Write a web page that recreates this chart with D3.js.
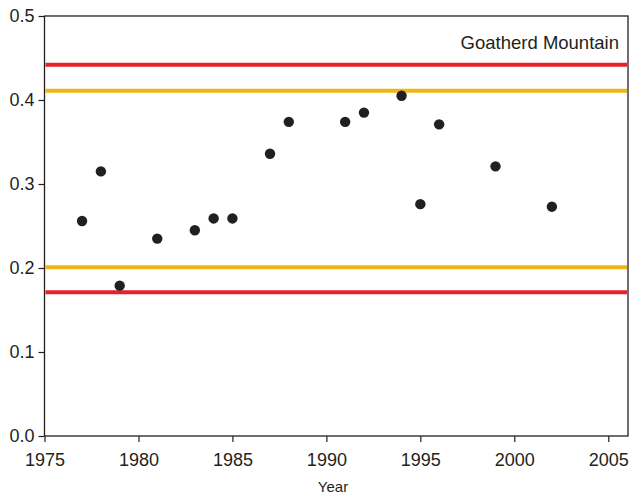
<!DOCTYPE html>
<html><head><meta charset="utf-8">
<script src="https://cdn.jsdelivr.net/npm/d3@7"></script>
<style>body{margin:0;background:#fff}svg{display:block}</style>
</head><body>
<svg id="c" width="632" height="496"></svg>
<script>
const years = [1977,1978,1979,1981,1983,1984,1985,1987,1988,1991,1992,1994,1995,1996,1999,2002];
const values = [0.256,0.315,0.179,0.235,0.245,0.259,0.259,0.336,0.374,0.374,0.385,0.405,0.276,0.371,0.321,0.273];
const refLines = [0.442,0.411,0.201,0.171];
const refColors = ["#e8202a","#eeb614","#eeb614","#e8202a"];
const xTicks = [1975,1980,1985,1990,1995,2000,2005];
const yTicks = [0,0.1,0.2,0.3,0.4,0.5];
const title = "Goatherd Mountain";
const xLabel = "Year";

const m = {l:44.5, r:628, t:16, b:436};
const svg = d3.select("#c");
const x = d3.scaleLinear().domain([1975,2006.05]).range([m.l,m.r]);
const y = d3.scaleLinear().domain([0,0.5]).range([m.b,m.t]);
const font = "'Liberation Sans', Arial, Helvetica, sans-serif";

svg.selectAll("line.ref").data(refLines).join("line").attr("class","ref")
  .attr("x1",m.l+1).attr("x2",m.r-1)
  .attr("y1",d=>y(d)).attr("y2",d=>y(d))
  .attr("stroke",(d,i)=>refColors[i]).attr("stroke-width",4);

svg.selectAll("circle").data(years).join("circle")
  .attr("cx",d=>x(d)).attr("cy",(d,i)=>y(values[i])).attr("r",5.2).attr("fill","#231f20");

const xa = svg.append("g").attr("transform",`translate(0,${m.b})`)
  .call(d3.axisBottom(x).tickValues(xTicks).tickFormat(d3.format("d")).tickSize(6).tickPadding(11));
const ya = svg.append("g").attr("transform",`translate(${m.l},0)`)
  .call(d3.axisLeft(y).tickValues(yTicks).tickFormat(d3.format(".1f")).tickSize(6).tickPadding(4));
[xa,ya].forEach(a=>{
  a.select(".domain").remove();
  a.attr("font-family",font).attr("font-size",null);
  a.selectAll("line").attr("stroke","#231f20").attr("stroke-width",1.2);
  a.selectAll("text").style("font-family",font).style("font-size","18px").attr("fill","#231f20");
});

svg.append("rect").attr("x",m.l).attr("y",m.t).attr("width",m.r-m.l).attr("height",m.b-m.t)
  .attr("fill","none").attr("stroke","#231f20").attr("stroke-width",1.3);

svg.append("text").attr("x",619).attr("y",49).attr("text-anchor","end")
  .style("font-family",font).style("font-size","18.5px").attr("fill","#231f20").text(title);
svg.append("text").attr("x",333).attr("y",492).attr("text-anchor","middle")
  .style("font-family",font).style("font-size","15px").attr("fill","#231f20").text(xLabel);
</script>
</body></html>
